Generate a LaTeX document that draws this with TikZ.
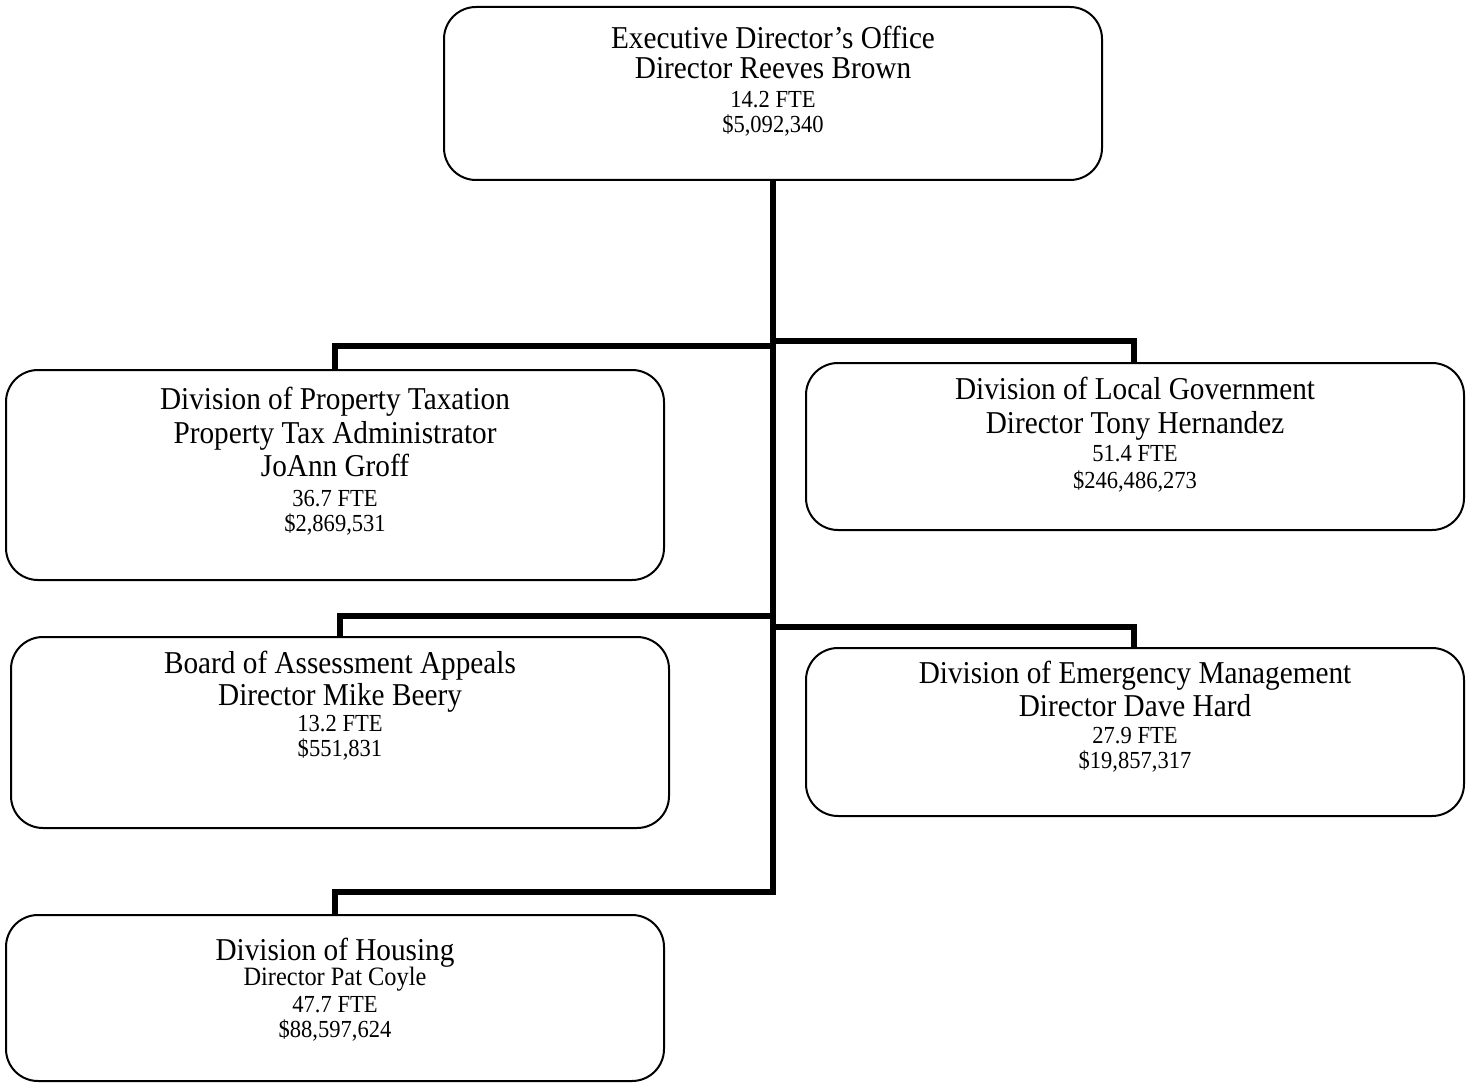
\documentclass[tikz,border=0pt]{standalone}
\usepackage{fontspec}
\setmainfont[FakeStretch=0.92]{Liberation Serif}
\begin{document}
\begin{tikzpicture}[x=1pt,y=-1pt,
  box/.style={draw, line width=2pt, rounded corners=32pt, minimum width=658pt, inner sep=0pt},
  big/.style={anchor=base, inner sep=0pt, font=\fontsize{31.8}{36}\selectfont},
  sml/.style={anchor=base, inner sep=0pt, font=\fontsize{24.5}{28}\selectfont},
  mid/.style={anchor=base, inner sep=0pt, font=\fontsize{26.5}{30}\selectfont},
  conn/.style={line width=6pt, line join=miter}]
\useasboundingbox (0,0) rectangle (1469,1083);
% boxes
\node[box, minimum height=173pt] (top) at (773,93.5) {};
\node[box, minimum height=210pt] (prop) at (335,475) {};
\node[box, minimum height=167pt] (local) at (1135,446.5) {};
\node[box, minimum height=191pt] (board) at (340,732.5) {};
\node[box, minimum height=168pt] (emerg) at (1135,732) {};
\node[box, minimum height=166pt] (housing) at (335,998) {};
% texts
\node[big] (t1) at (773,48.3) {Executive Director’s Office};
\node[big] (t2) at (773,78.3) {Director Reeves Brown};
\node[sml] (t3) at (773,107.7) {14.2 FTE};
\node[sml] (t4) at (773,132.3) {\$5,092,340};
\node[big] (p1) at (335,409.3) {Division of Property Taxation};
\node[big] (p2) at (335,443.3) {Property Tax Administrator};
\node[big] (p3) at (335,476.7) {JoAnn Groff};
\node[sml] (p4) at (335,506) {36.7 FTE};
\node[sml] (p5) at (335,531.7) {\$2,869,531};
\node[big] (l1) at (1135,399.3) {Division of Local Government};
\node[big] (l2) at (1135,433.3) {Director Tony Hernandez};
\node[sml] (l3) at (1135,461.7) {51.4 FTE};
\node[sml] (l4) at (1135,488.3) {\$246,486,273};
\node[big] (b1) at (340,673.3) {Board of Assessment Appeals};
\node[big] (b2) at (340,705) {Director Mike Beery};
\node[sml] (b3) at (340,731.7) {13.2 FTE};
\node[sml] (b4) at (340,756.7) {\$551,831};
\node[big] (e1) at (1135,683.3) {Division of Emergency Management};
\node[big] (e2) at (1135,716.7) {Director Dave Hard};
\node[sml] (e3) at (1135,743.3) {27.9 FTE};
\node[sml] (e4) at (1135,768.3) {\$19,857,317};
\node[big] (h1) at (335,960) {Division of Housing};
\node[mid] (h2) at (335,985) {Director Pat Coyle};
\node[sml] (h3) at (335,1012.3) {47.7 FTE};
\node[sml] (h4) at (335,1037.7) {\$88,597,624};
% connectors
\coordinate (tb) at (773,892);
\coordinate (j1l) at (773,346);
\coordinate (j1r) at (773,341);
\coordinate (j2l) at (773,615.5);
\coordinate (j2r) at (773,626.7);
\coordinate (ld) at (1134,0);
\draw[conn] (top.south) -- (tb) -- (tb -| housing.north) -- (housing.north);
\draw[conn] (j1l) -| (prop.north);
\draw[conn] (j1r) -| (j1r -| ld) -- (local.north -| ld);
\draw[conn] (j2l) -| (board.north);
\draw[conn] (j2r) -| (j2r -| ld) -- (emerg.north -| ld);
\end{tikzpicture}
\end{document}
